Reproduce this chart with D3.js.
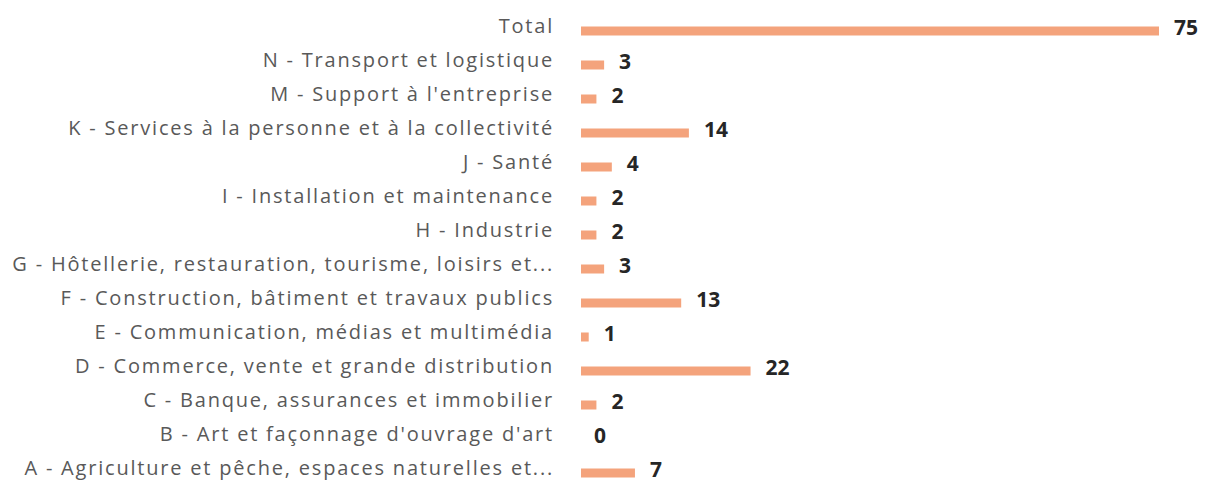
<!DOCTYPE html>
<html>
<head>
<meta charset="utf-8">
<script src="https://cdn.jsdelivr.net/npm/d3@7"></script>
<style>
  body { margin: 0; background: #fff; }
  svg { display: block; }
</style>
</head>
<body>
<script>
// Catégories (du haut vers le bas) et effectifs
const categories = [
    "Total",
    "N - Transport et logistique",
    "M - Support à l'entreprise",
    "K - Services à la personne et à la collectivité",
    "J - Santé",
    "I - Installation et maintenance",
    "H - Industrie",
    "G - Hôtellerie, restauration, tourisme, loisirs et...",
    "F - Construction, bâtiment et travaux publics",
    "E - Communication, médias et multimédia",
    "D - Commerce, vente et grande distribution",
    "C - Banque, assurances et immobilier",
    "B - Art et façonnage d'ouvrage d'art",
    "A - Agriculture et pêche, espaces naturelles et..."
];
const values = [75, 3, 2, 14, 4, 2, 2, 3, 13, 1, 22, 2, 0, 7];

const width = 1207, height = 485;
const barLeft = 581;

const data = categories.map((c, i) => ({ label: c, value: values[i] }));

const svg = d3.select("body").append("svg")
    .attr("width", width)
    .attr("height", height);

const x = d3.scaleLinear().domain([0, 75]).range([barLeft, 1159]);
const y = d3.scaleBand().domain(categories).range([9, 485]).padding(0);

const barH = 9;
const mid = d => y(d.label) + y.bandwidth() / 2;

// Barres
svg.selectAll("rect.bar").data(data).join("rect")
    .attr("class", "bar")
    .attr("x", x(0))
    .attr("y", d => mid(d) + 5 - barH / 2)
    .attr("width", d => x(d.value) - x(0))
    .attr("height", barH)
    .attr("fill", "#f4a37c");

// Libellés des catégories
svg.selectAll("text.cat").data(data).join("text")
    .attr("class", "cat")
    .attr("x", 554)
    .attr("y", d => mid(d))
    .attr("dy", "0.35em")
    .attr("text-anchor", "end")
    .style("font-family", "'Open Sans', sans-serif")
    .style("font-size", "20px")
    .style("letter-spacing", "1.8px")
    .style("fill", "#595959")
    .text(d => d.label);

// Valeurs
svg.selectAll("text.val").data(data).join("text")
    .attr("class", "val")
    .attr("x", d => x(d.value) + (d.value === 0 ? 13 : 15))
    .attr("y", d => mid(d) + 2)
    .attr("dy", "0.35em")
    .style("font-family", "'Open Sans', sans-serif")
    .style("font-size", "21px")
    .style("font-weight", "bold")
    .style("fill", "#262626")
    .text(d => d.value);
</script>
</body>
</html>
